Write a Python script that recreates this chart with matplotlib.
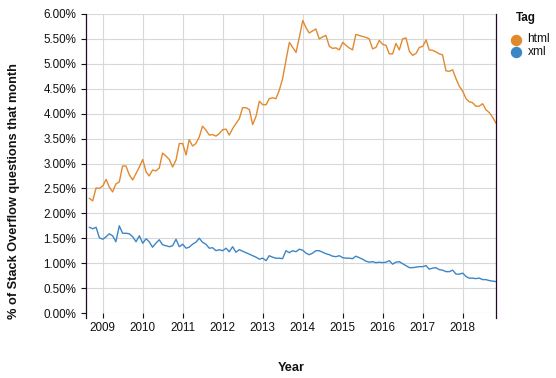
import matplotlib
matplotlib.use('Agg')
import matplotlib.pyplot as plt
from matplotlib.lines import Line2D
import matplotlib.dates as mdates
import numpy as np
import pandas as pd

plt.rcParams['font.family'] = ['Liberation Sans', 'DejaVu Sans']

# ---- data ----
months = pd.date_range('2008-09-01', '2018-11-01', freq='MS')

html = [
    2.30, 2.25, 2.51, 2.50,
    2.55, 2.68, 2.53, 2.43, 2.59, 2.63, 2.95, 2.95, 2.77, 2.67, 2.80, 2.93,
    3.08, 2.83, 2.75, 2.87, 2.85, 2.91, 3.21, 3.15, 3.08, 2.93, 3.07, 3.40,
    3.40, 3.17, 3.48, 3.35, 3.40, 3.53, 3.75, 3.67, 3.57, 3.58, 3.55, 3.60,
    3.68, 3.69, 3.57, 3.70, 3.80, 3.90, 4.12, 4.12, 4.08, 3.78, 3.95, 4.25,
    4.18, 4.18, 4.30, 4.32, 4.30, 4.47, 4.70, 5.07, 5.43, 5.33, 5.23, 5.53,
    5.87, 5.72, 5.62, 5.66, 5.70, 5.50, 5.54, 5.57, 5.35, 5.31, 5.32, 5.28,
    5.43, 5.37, 5.32, 5.28, 5.59, 5.57, 5.55, 5.53, 5.50, 5.30, 5.33, 5.47,
    5.39, 5.37, 5.20, 5.20, 5.41, 5.28, 5.50, 5.52, 5.25, 5.17, 5.21, 5.33,
    5.35, 5.48, 5.28, 5.27, 5.24, 5.20, 5.18, 4.86, 4.85, 4.88, 4.70, 4.55,
    4.45, 4.30, 4.24, 4.22, 4.15, 4.15, 4.20, 4.08, 4.02, 3.93, 3.81,
]

xml = [
    1.72, 1.69, 1.72, 1.51,
    1.48, 1.53, 1.59, 1.55, 1.43, 1.75, 1.60, 1.60, 1.59, 1.53, 1.43, 1.55,
    1.40, 1.49, 1.43, 1.32, 1.40, 1.47, 1.37, 1.35, 1.33, 1.35, 1.48, 1.33,
    1.38, 1.30, 1.32, 1.38, 1.42, 1.50, 1.42, 1.38, 1.30, 1.31, 1.25, 1.27,
    1.25, 1.30, 1.23, 1.33, 1.22, 1.27, 1.24, 1.21, 1.18, 1.15, 1.12, 1.08,
    1.10, 1.05, 1.15, 1.12, 1.10, 1.10, 1.09, 1.25, 1.21, 1.25, 1.23, 1.28,
    1.26, 1.20, 1.17, 1.20, 1.25, 1.25, 1.22, 1.19, 1.17, 1.14, 1.13, 1.15,
    1.11, 1.10, 1.10, 1.09, 1.14, 1.11, 1.08, 1.04, 1.02, 1.03, 1.01, 1.02,
    1.01, 1.02, 1.05, 0.98, 1.02, 1.03, 0.99, 0.95, 0.91, 0.91, 0.92, 0.93,
    0.93, 0.95, 0.88, 0.90, 0.91, 0.87, 0.86, 0.83, 0.83, 0.86, 0.78, 0.78,
    0.80, 0.73, 0.70, 0.70, 0.69, 0.70, 0.67, 0.67, 0.65, 0.64, 0.63,
]

tags = ['html', 'xml']
series = [html, xml]
colors = ['#e3892d', '#3d86c6']
year_ticks = list(range(2009, 2019))
y_ticks = [0.0, 0.5, 1.0, 1.5, 2.0, 2.5, 3.0, 3.5, 4.0, 4.5, 5.0, 5.5, 6.0]

# ---- figure ----
W, H = 556, 378
fig = plt.figure(figsize=(W / 100, H / 100), dpi=100)
L, R, T, B = 86, 496, 14, 313
ax = fig.add_axes([L / W, 1 - B / H, (R - L) / W, (B - T) / H])

for vals, c in zip(series, colors):
    ax.plot(months, vals, color=c, lw=1.0, solid_joinstyle='round')

ax.set_xlim(pd.Timestamp('2008-08-01'), pd.Timestamp('2018-11-01'))
ax.set_ylim(0, 6)

ax.set_xticks([pd.Timestamp(f'{y}-01-01') for y in year_ticks])
ax.set_xticklabels([str(y) for y in year_ticks])
ax.set_yticks(y_ticks)
ax.set_yticklabels([f'{v:.2f}%' for v in y_ticks])

grid_c = '#d5d9dc'
ax.grid(True, color=grid_c, lw=0.8)
ax.set_axisbelow(True)

dark = '#1e0c20'
for s in ['top', 'bottom']:
    ax.spines[s].set_visible(False)
for s in ['left', 'right']:
    ax.spines[s].set_color(dark)
    ax.spines[s].set_linewidth(0.9)
    ax.spines[s].set_bounds(-0.095, 6.0)

ax.tick_params(axis='both', colors=dark, length=3.3, width=0.8, labelcolor='#111111',
               labelsize=8.4)
ax.tick_params(axis='y', pad=3.8)
ax.tick_params(axis='x', pad=3.0)

# axis titles
fig.text(14 / W, 1 - 191 / H, '% of Stack Overflow questions that month', rotation=90,
         ha='center', va='center', fontsize=9.2, fontweight='bold', color='#111111')
fig.text(291 / W, 1 - 368 / H, 'Year', ha='center', va='center', fontsize=9.2,
         fontweight='bold', color='#111111')

# legend
fig.text(516 / W, 1 - 18 / H, 'Tag', ha='left', va='center', fontsize=8.4,
         fontweight='bold', color='#111111')
for i, (tag, c) in enumerate(zip(tags, colors)):
    y = 1 - (39.5 + 12.4 * i) / H
    fig.add_artist(Line2D([515.7 / W], [y], marker='o', ms=7.2, color=c, lw=0,
                          transform=fig.transFigure))
    fig.text(527.5 / W, y, tag, ha='left', va='center', fontsize=8.6, color='#111111')

fig.savefig('out.png', dpi=100)
